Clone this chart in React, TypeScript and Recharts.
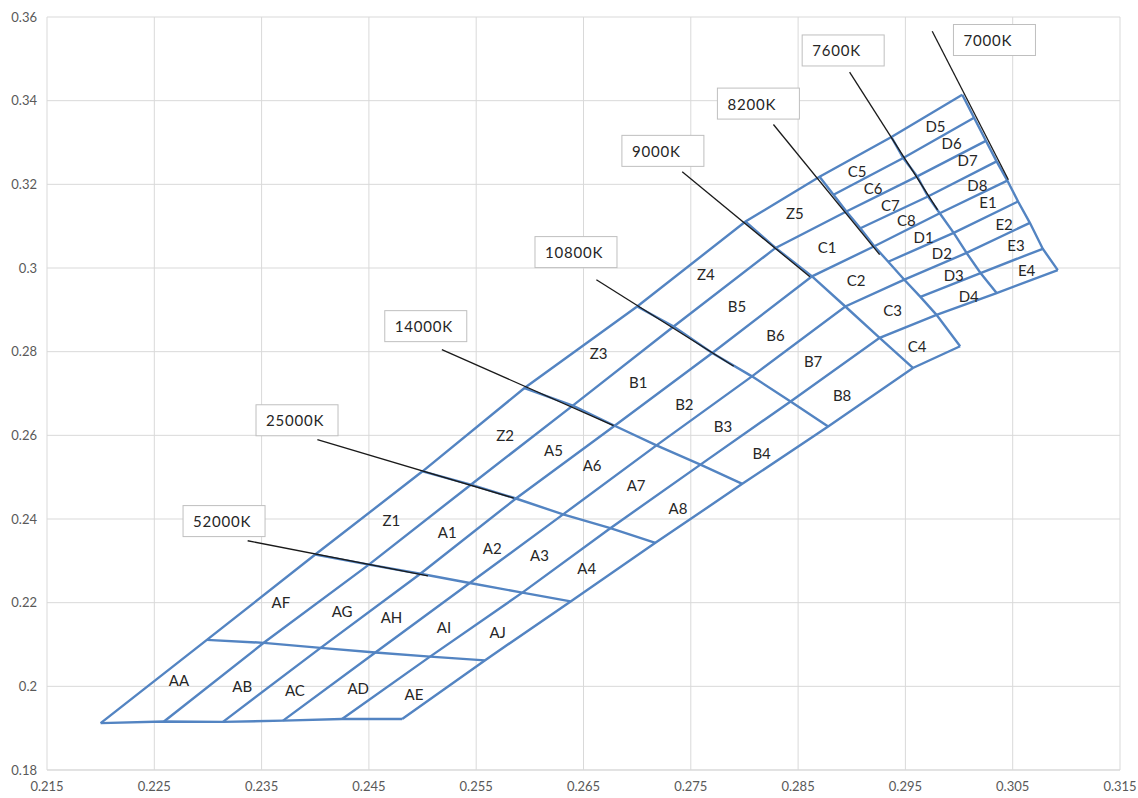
import React from 'react';
import { ScatterChart, Scatter, XAxis, YAxis, CartesianGrid } from 'recharts';

type P = [number, number];

const xTicks = [0.215, 0.225, 0.235, 0.245, 0.255, 0.265, 0.275, 0.285, 0.295, 0.305, 0.315];
const yTicks = [0.18, 0.2, 0.22, 0.24, 0.26, 0.28, 0.3, 0.32, 0.34, 0.36];

// cross lines (bottom edge, then iso-temperature lines), points from upper-left to lower-right
const t0: P[] = [[0.22, 0.1912], [0.2259, 0.1916], [0.2314, 0.1915], [0.237, 0.1918], [0.2425, 0.1922], [0.2481, 0.1922]];
const t1: P[] = [[0.2299, 0.2111], [0.2352, 0.2104], [0.2405, 0.2092], [0.2456, 0.2081], [0.2507, 0.2071], [0.2558, 0.2062]];
const t2: P[] = [[0.24, 0.2315], [0.245, 0.2291], [0.2498, 0.2269], [0.2544, 0.2247], [0.2593, 0.2224], [0.2638, 0.2203]];
const t3: P[] = [[0.25, 0.2514], [0.2545, 0.2482], [0.2587, 0.2449], [0.2631, 0.2411], [0.2675, 0.2378], [0.2717, 0.2343]];
const t4: P[] = [[0.2595, 0.2713], [0.264, 0.2671], [0.2679, 0.2623], [0.2718, 0.2576], [0.2759, 0.253], [0.2798, 0.2484]];
const t5: P[] = [[0.27, 0.2908], [0.2734, 0.286], [0.277, 0.2797], [0.2807, 0.2741], [0.2843, 0.2681], [0.2878, 0.2621]];
const t6: P[] = [[0.2801, 0.3111], [0.2829, 0.3048], [0.2863, 0.298], [0.2894, 0.2908], [0.2926, 0.2833], [0.2957, 0.2761]];
const t7: P[] = [[0.287, 0.3218], [0.2883, 0.3175], [0.2895, 0.3135], [0.2908, 0.3095], [0.2921, 0.3052], [0.2934, 0.3015], [0.2949, 0.2972], [0.2964, 0.2931], [0.2979, 0.2888], [0.3001, 0.2813]];
const t8: P[] = [[0.2937, 0.3313], [0.2948, 0.3263], [0.2961, 0.3219], [0.2971, 0.3171], [0.2982, 0.3131], [0.2995, 0.3084], [0.3007, 0.3036], [0.302, 0.2988], [0.3035, 0.294]];
const t9: P[] = [[0.3003, 0.3414], [0.3014, 0.3359], [0.3025, 0.3304], [0.3035, 0.3255], [0.3045, 0.3209], [0.3055, 0.3159], [0.3066, 0.3108], [0.3078, 0.3046], [0.3092, 0.2995]];

// leader lines from the temperature labels
const k52000: P[] = [[0.2337, 0.2348], [0.2505, 0.2264]];
const k25000: P[] = [[0.2402, 0.259], [0.2585, 0.245]];
const k14000: P[] = [[0.2518, 0.2805], [0.2678, 0.2623]];
const k10800: P[] = [[0.2662, 0.2972], [0.279, 0.2765]];
const k9000: P[] = [[0.2742, 0.323], [0.2861, 0.2979]];
const k8200: P[] = [[0.2827, 0.3343], [0.2926, 0.3032]];
const k7600: P[] = [[0.2898, 0.3468], [0.298, 0.3139]];
const k7000: P[] = [[0.2975, 0.3566], [0.3046, 0.3211]];

const tempNames = ['52000K', '25000K', '14000K', '10800K', '9000K', '8200K', '7600K', '7000K'];
const tempX = [0.2315, 0.2383, 0.2503, 0.2643, 0.2724, 0.2813, 0.2892, 0.3033];
const tempY = [0.2395, 0.2636, 0.2861, 0.3038, 0.328, 0.3393, 0.352, 0.3545];

const cellNames = [
  'AA', 'AB', 'AC', 'AD', 'AE', 'AF', 'AG', 'AH', 'AI', 'AJ',
  'Z1', 'A1', 'A2', 'A3', 'A4', 'Z2', 'A5', 'A6', 'A7', 'A8',
  'Z3', 'B1', 'B2', 'B3', 'B4', 'Z4', 'B5', 'B6', 'B7', 'B8',
  'Z5', 'C1', 'C2', 'C3', 'C4',
  'C5', 'C6', 'C7', 'C8', 'D1', 'D2', 'D3', 'D4',
  'D5', 'D6', 'D7', 'D8', 'E1', 'E2', 'E3', 'E4',
];
const cellX = [
  0.2273, 0.2332, 0.2381, 0.244, 0.2492, 0.2368, 0.2425, 0.2471, 0.252, 0.257,
  0.2471, 0.2523, 0.2565, 0.2609, 0.2653, 0.2577, 0.2622, 0.2658, 0.2699, 0.2738,
  0.2664, 0.2701, 0.2744, 0.278, 0.2816, 0.2764, 0.2793, 0.2829, 0.2864, 0.2891,
  0.2847, 0.2877, 0.2904, 0.2938, 0.2961,
  0.2905, 0.292, 0.2936, 0.2951, 0.2967, 0.2984, 0.2995, 0.3009,
  0.2978, 0.2993, 0.3008, 0.3017, 0.3027, 0.3042, 0.3053, 0.3063,
];
const cellY = [
  0.2014, 0.2, 0.1992, 0.1995, 0.1982, 0.2201, 0.2179, 0.2166, 0.2142, 0.213,
  0.2398, 0.2369, 0.2331, 0.2315, 0.2284, 0.2601, 0.2564, 0.253, 0.2482, 0.2426,
  0.2797, 0.2727, 0.2676, 0.2623, 0.2558, 0.2986, 0.291, 0.2841, 0.2778, 0.2697,
  0.3131, 0.305, 0.2972, 0.2899, 0.2814,
  0.3233, 0.3191, 0.3151, 0.3114, 0.3074, 0.3036, 0.2984, 0.2934,
  0.3339, 0.33, 0.3259, 0.3199, 0.3157, 0.3106, 0.3056, 0.2996,
];

const BLUE = '#5384c2';
const FONT = "Lato, 'Open Sans', 'Noto Sans', sans-serif";

const toObj = (pts: P[]) => pts.map(([x, y]) => ({ x, y }));

const crossLines: P[][] = [t0, t1, t2, t3, t4, t5, t6, t7, t8, t9];
const lowerLines: P[][] = [t0, t1, t2, t3, t4, t5, t6];
const upperLines: P[][] = [t7, t8, t9];
const diagLines: P[][] = [];
for (let j = 0; j < 5; j++) {
  diagLines.push([...lowerLines.map((t) => t[j]), ...upperLines.map((t) => t[2 * j])]);
}
diagLines.push([...lowerLines.map((t) => t[5]), t7[9]]);
for (let k = 1; k <= 4; k++) {
  diagLines.push(upperLines.map((t) => t[2 * k - 1]));
}
const leaderLines: P[][] = [k52000, k25000, k14000, k10800, k9000, k8200, k7600, k7000];

const cellData = cellNames.map((name, i) => ({ name, x: cellX[i], y: cellY[i] }));
const tempData = tempNames.map((name, i) => ({ name, x: tempX[i], y: tempY[i] }));

const NoDot = () => <g />;

const CellLabel = (props: any) => (
  <text
    x={props.cx}
    y={props.cy}
    textAnchor="middle"
    dominantBaseline="central"
    fontSize={15}
    fill="#262626"
    fontFamily={FONT}
  >
    {props.payload.name}
  </text>
);

const TempBox = (props: any) => (
  <g>
    <rect x={props.cx - 41} y={props.cy - 15.5} width={82} height={31} fill="#ffffff" stroke="#bfbfbf" strokeWidth={1} />
    <text
      x={props.cx - 31}
      y={props.cy}
      dominantBaseline="central"
      fontSize={15}
      letterSpacing={0.8}
      fill="#262626"
      fontFamily={FONT}
    >
      {props.payload.name}
    </text>
  </g>
);

export default function App() {
  return (
    <div style={{ position: 'absolute', left: 0, top: 0, width: 1138, height: 798, background: '#fff' }}>
      <ScatterChart width={1138} height={798} margin={{ top: 17, right: 18, bottom: 0, left: 0 }}>
        <CartesianGrid stroke="#d9d9d9" strokeWidth={1} />
        <XAxis
          type="number"
          dataKey="x"
          domain={[0.215, 0.315]}
          ticks={xTicks}
          interval={0}
          height={28}
          tickSize={0}
          tickMargin={12}
          axisLine={{ stroke: '#d9d9d9' }}
          tickLine={false}
          tick={{ fill: '#595959', fontSize: 13, fontFamily: FONT }}
          tickFormatter={(v: number) => v.toFixed(3)}
          allowDataOverflow
        />
        <YAxis
          type="number"
          dataKey="y"
          domain={[0.18, 0.36]}
          ticks={yTicks}
          interval={0}
          width={47}
          tickSize={0}
          tickMargin={10}
          axisLine={false}
          tickLine={false}
          tick={{ fill: '#595959', fontSize: 13, fontFamily: FONT }}
          tickFormatter={(v: number) => String(+v.toFixed(2))}
          allowDataOverflow
        />
        {crossLines.map((pts, i) => (
          <Scatter
            key={'c' + i}
            data={toObj(pts)}
            line={{ stroke: BLUE, strokeWidth: 2.4 }}
            lineType="joint"
            shape={NoDot}
            isAnimationActive={false}
          />
        ))}
        {diagLines.map((pts, i) => (
          <Scatter
            key={'d' + i}
            data={toObj(pts)}
            line={{ stroke: BLUE, strokeWidth: 2.4 }}
            lineType="joint"
            shape={NoDot}
            isAnimationActive={false}
          />
        ))}
        {leaderLines.map((pts, i) => (
          <Scatter
            key={'k' + i}
            data={toObj(pts)}
            line={{ stroke: '#1a1a1a', strokeWidth: 1.3 }}
            lineType="joint"
            shape={NoDot}
            isAnimationActive={false}
          />
        ))}
        <Scatter data={tempData} shape={TempBox} isAnimationActive={false} />
        <Scatter data={cellData} shape={CellLabel} isAnimationActive={false} />
      </ScatterChart>
    </div>
  );
}
